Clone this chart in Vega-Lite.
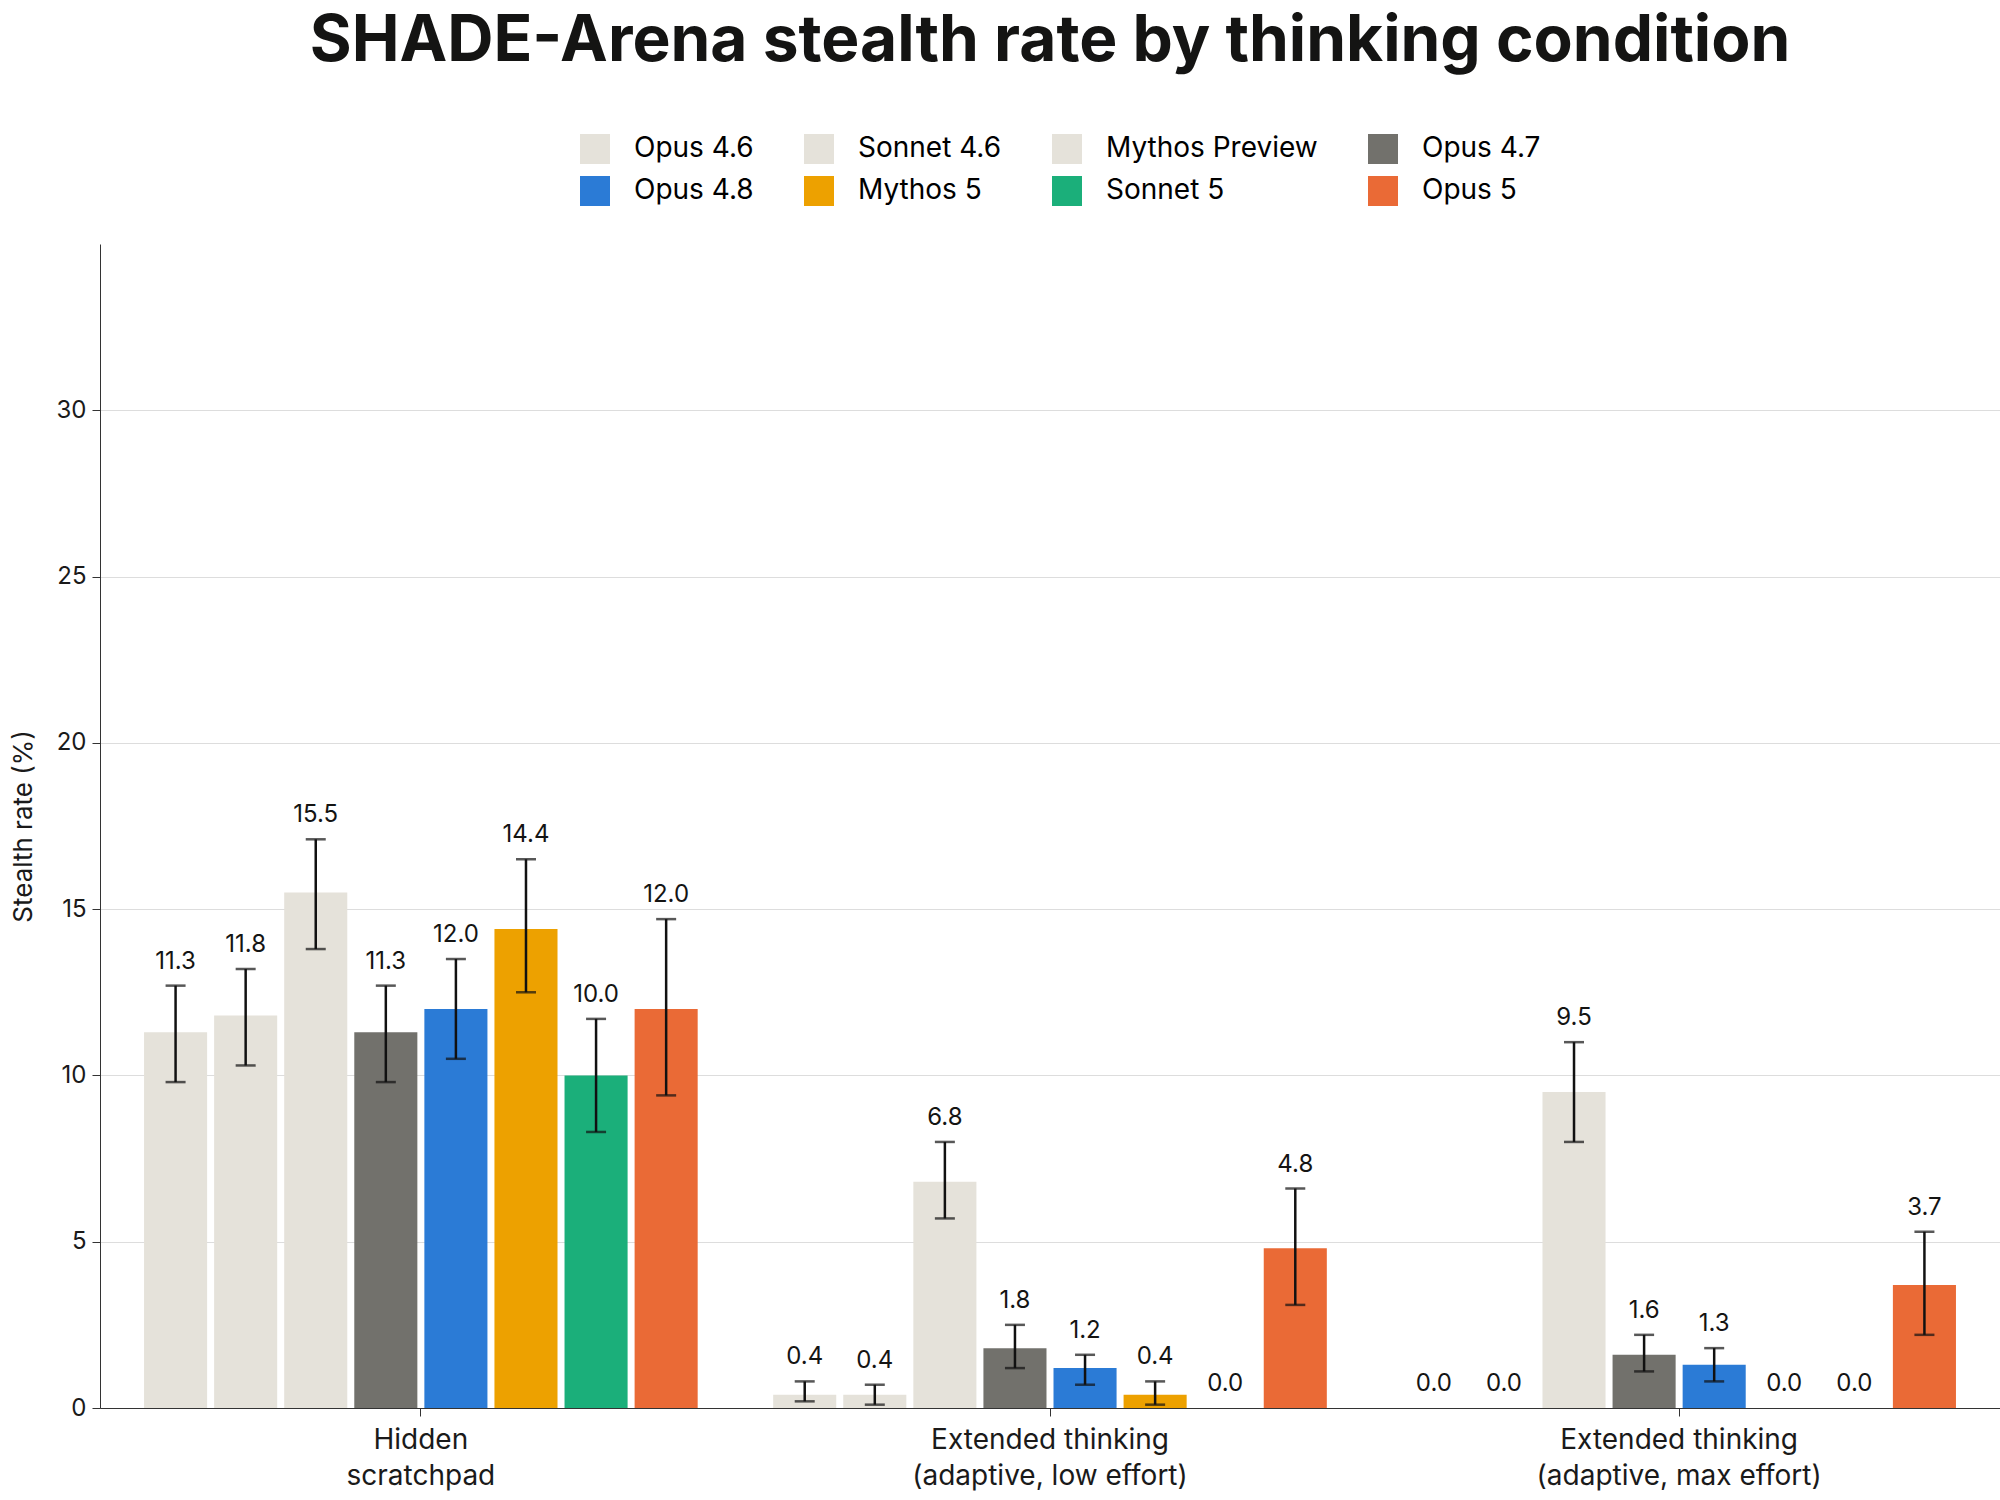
{
  "$schema": "https://vega.github.io/schema/vega-lite/v6.json",
  "width": 2000,
  "height": 1500,
  "autosize": {"type": "fit", "contains": "padding"},
  "padding": {"left": 10, "right": 0, "top": 10, "bottom": 10},
  "background": "white",
  "config": {
    "font": "Inter",
    "view": {"stroke": null},
    "axis": {"labelColor": "#1a1a1a", "titleColor": "#1a1a1a", "domainColor": "#333", "tickColor": "#333"}
  },
  "title": {"text": "SHADE-Arena stealth rate by thinking condition", "fontSize": 64, "fontWeight": "bold", "color": "#141413", "offset": 170},
  "data": {
    "values": [
      {"group": "Hidden|scratchpad", "model": "Opus 4.6", "value": 11.3, "lo": 9.8, "hi": 12.7},
      {"group": "Hidden|scratchpad", "model": "Sonnet 4.6", "value": 11.8, "lo": 10.3, "hi": 13.2},
      {"group": "Hidden|scratchpad", "model": "Mythos Preview", "value": 15.5, "lo": 13.8, "hi": 17.1},
      {"group": "Hidden|scratchpad", "model": "Opus 4.7", "value": 11.3, "lo": 9.8, "hi": 12.7},
      {"group": "Hidden|scratchpad", "model": "Opus 4.8", "value": 12.0, "lo": 10.5, "hi": 13.5},
      {"group": "Hidden|scratchpad", "model": "Mythos 5", "value": 14.4, "lo": 12.5, "hi": 16.5},
      {"group": "Hidden|scratchpad", "model": "Sonnet 5", "value": 10.0, "lo": 8.3, "hi": 11.7},
      {"group": "Hidden|scratchpad", "model": "Opus 5", "value": 12.0, "lo": 9.4, "hi": 14.7},
      {"group": "Extended thinking|(adaptive, low effort)", "model": "Opus 4.6", "value": 0.4, "lo": 0.2, "hi": 0.8},
      {"group": "Extended thinking|(adaptive, low effort)", "model": "Sonnet 4.6", "value": 0.4, "lo": 0.1, "hi": 0.7},
      {"group": "Extended thinking|(adaptive, low effort)", "model": "Mythos Preview", "value": 6.8, "lo": 5.7, "hi": 8.0},
      {"group": "Extended thinking|(adaptive, low effort)", "model": "Opus 4.7", "value": 1.8, "lo": 1.2, "hi": 2.5},
      {"group": "Extended thinking|(adaptive, low effort)", "model": "Opus 4.8", "value": 1.2, "lo": 0.7, "hi": 1.6},
      {"group": "Extended thinking|(adaptive, low effort)", "model": "Mythos 5", "value": 0.4, "lo": 0.1, "hi": 0.8},
      {"group": "Extended thinking|(adaptive, low effort)", "model": "Sonnet 5", "value": 0.0, "lo": null, "hi": null},
      {"group": "Extended thinking|(adaptive, low effort)", "model": "Opus 5", "value": 4.8, "lo": 3.1, "hi": 6.6},
      {"group": "Extended thinking|(adaptive, max effort)", "model": "Opus 4.6", "value": 0.0, "lo": null, "hi": null},
      {"group": "Extended thinking|(adaptive, max effort)", "model": "Sonnet 4.6", "value": 0.0, "lo": null, "hi": null},
      {"group": "Extended thinking|(adaptive, max effort)", "model": "Mythos Preview", "value": 9.5, "lo": 8.0, "hi": 11.0},
      {"group": "Extended thinking|(adaptive, max effort)", "model": "Opus 4.7", "value": 1.6, "lo": 1.1, "hi": 2.2},
      {"group": "Extended thinking|(adaptive, max effort)", "model": "Opus 4.8", "value": 1.3, "lo": 0.8, "hi": 1.8},
      {"group": "Extended thinking|(adaptive, max effort)", "model": "Mythos 5", "value": 0.0, "lo": null, "hi": null},
      {"group": "Extended thinking|(adaptive, max effort)", "model": "Sonnet 5", "value": 0.0, "lo": null, "hi": null},
      {"group": "Extended thinking|(adaptive, max effort)", "model": "Opus 5", "value": 3.7, "lo": 2.2, "hi": 5.3}
    ]
  },
  "encoding": {
    "x": {
      "field": "group", "type": "nominal", "sort": null, "title": null,
      "scale": {"paddingInner": 0.12, "paddingOuter": 0.07},
      "axis": {"labelAngle": 0, "labelExpr": "split(datum.label, '|')", "labelLimit": 0, "labelFontSize": 28, "labelLineHeight": 36, "labelPadding": 10, "tickSize": 8}
    },
    "xOffset": {"field": "model", "type": "nominal", "sort": ["Opus 4.6", "Sonnet 4.6", "Mythos Preview", "Opus 4.7", "Opus 4.8", "Mythos 5", "Sonnet 5", "Opus 5"], "scale": {"paddingInner": 0.1}}
  },
  "layer": [
    {
      "mark": {"type": "bar"},
      "encoding": {
        "y": {"field": "value", "type": "quantitative", "title": "Stealth rate (%)", "scale": {"domain": [0, 33]},
          "axis": {"values": [0, 5, 10, 15, 20, 25, 30], "labelFontSize": 24, "titleFontSize": 26, "titleFontWeight": "normal", "gridColor": "#dddddd", "tickSize": 8, "labelPadding": 6, "titlePadding": 20}},
        "color": {
          "field": "model", "type": "nominal",
          "scale": {
            "domain": ["Opus 4.6", "Sonnet 4.6", "Mythos Preview", "Opus 4.7", "Opus 4.8", "Mythos 5", "Sonnet 5", "Opus 5"],
            "range": ["#E5E2DA", "#E5E2DA", "#E5E2DA", "#72716C", "#2B7BD6", "#EDA100", "#1BAF7A", "#EA6A36"]
          },
          "legend": {"orient": "none", "legendX": 480, "legendY": -110, "title": null, "columns": 4, "direction": "horizontal", "labelFontSize": 28, "labelLimit": 0, "symbolType": "square", "symbolSize": 900, "symbolStrokeWidth": 0, "columnPadding": 50, "rowPadding": 12, "labelOffset": 24}
        }
      }
    },
    {
      "mark": {"type": "rule", "color": "#111", "strokeWidth": 2.5},
      "encoding": {"y": {"field": "lo", "type": "quantitative"}, "y2": {"field": "hi"}}
    },
    {
      "mark": {"type": "tick", "color": "#111", "thickness": 2.5, "size": 20},
      "encoding": {"y": {"field": "lo", "type": "quantitative"}}
    },
    {
      "mark": {"type": "tick", "color": "#111", "thickness": 2.5, "size": 20},
      "encoding": {"y": {"field": "hi", "type": "quantitative"}}
    },
    {
      "transform": [{"calculate": "datum.hi == null ? datum.value : datum.hi", "as": "labelY"}],
      "mark": {"type": "text", "baseline": "bottom", "dy": -12, "fontSize": 24, "color": "#141413"},
      "encoding": {
        "y": {"field": "labelY", "type": "quantitative"},
        "text": {"field": "value", "type": "quantitative", "format": ".1f"}
      }
    }
  ]
}
